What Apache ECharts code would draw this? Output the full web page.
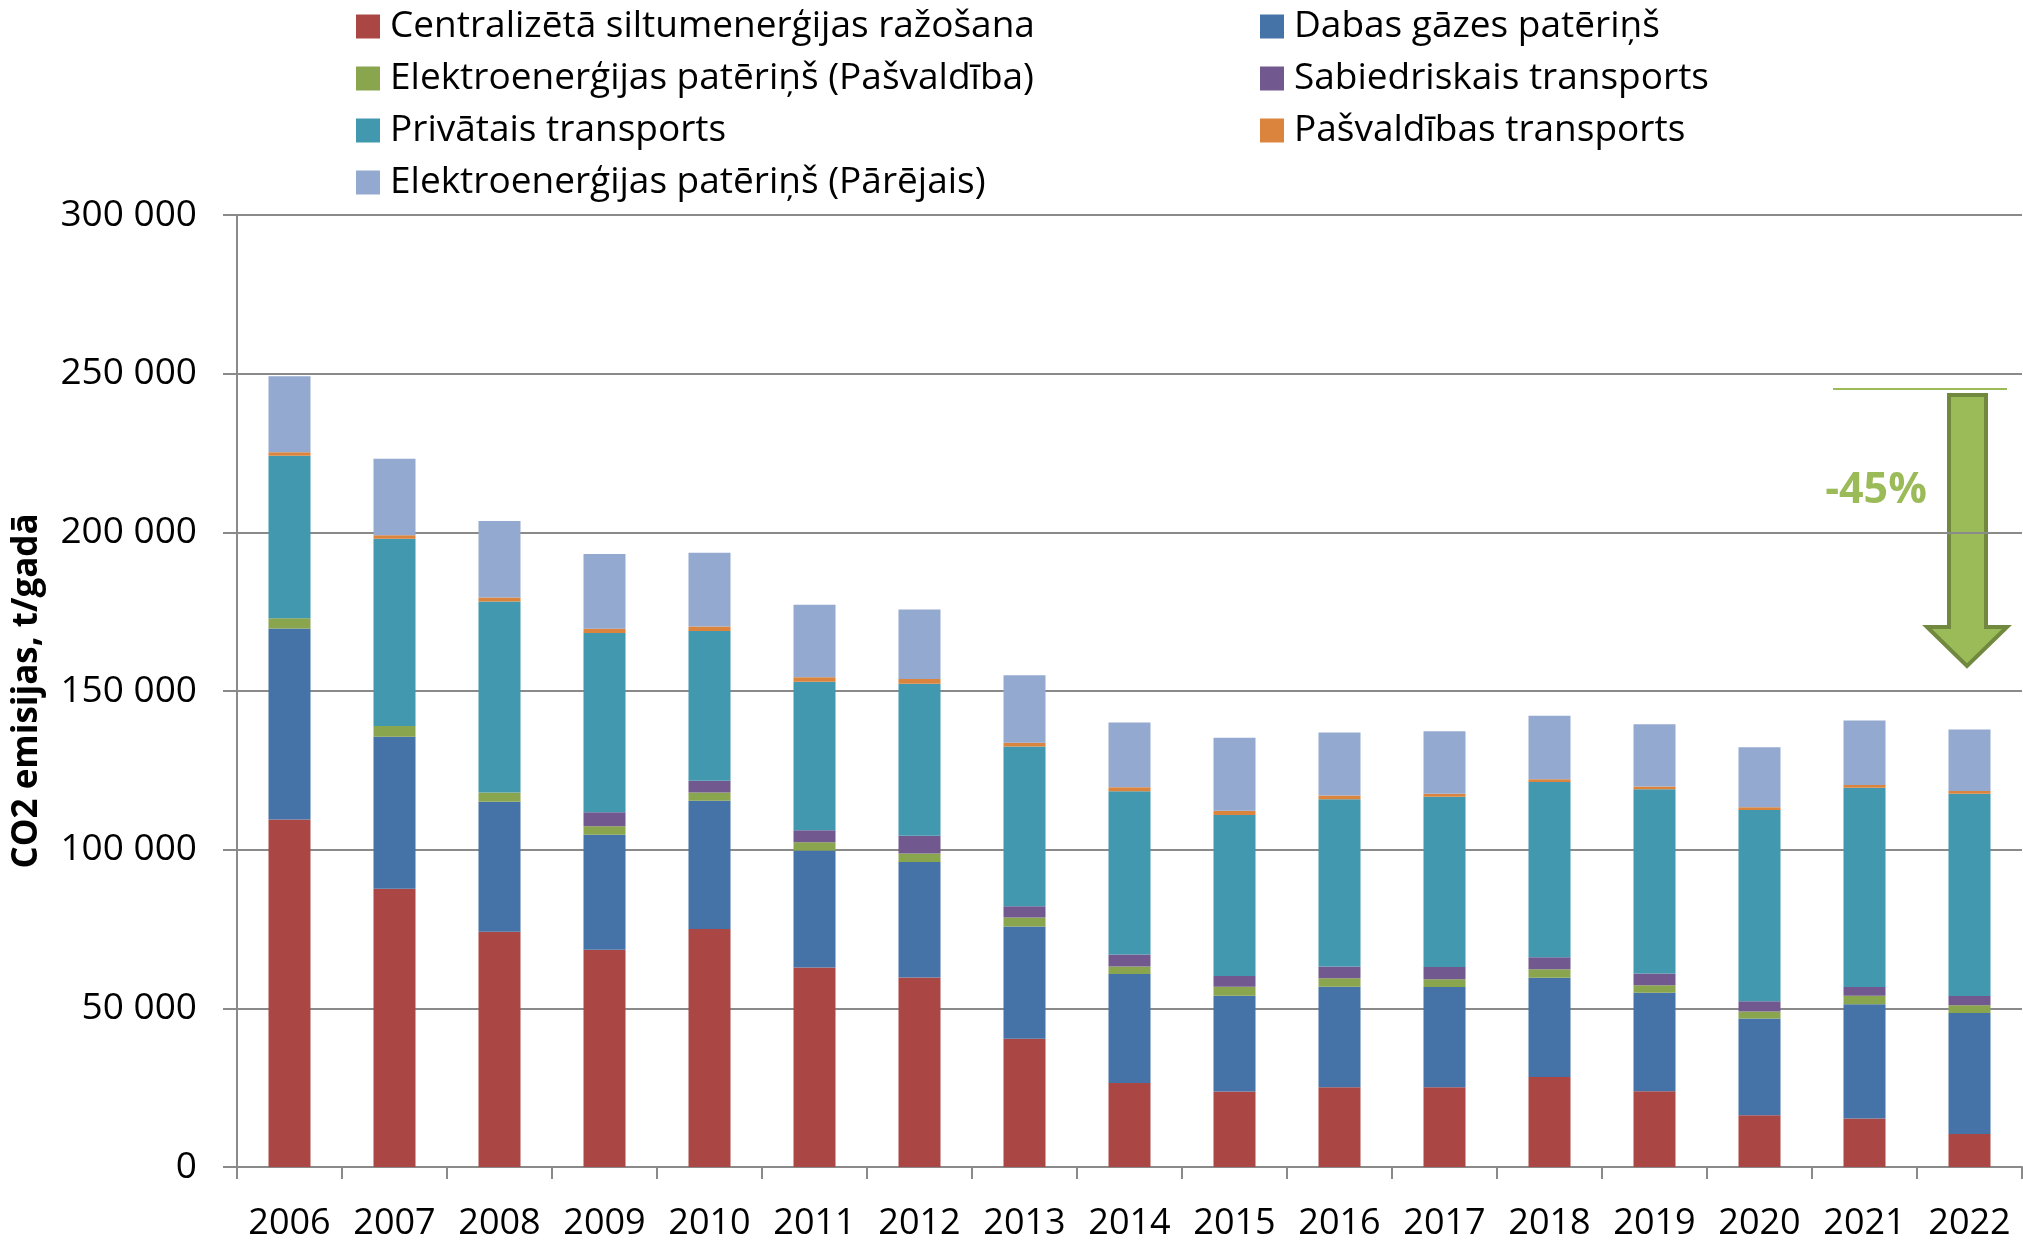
<!DOCTYPE html>
<html>
<head>
<meta charset="utf-8">
<title>CO2 emisijas</title>
<script src="https://cdn.jsdelivr.net/npm/echarts@6/dist/echarts.min.js"></script>
<style>
    html, body { margin: 0; padding: 0; background: #fff; }
    #chart { width: 2023px; height: 1243px; }
</style>
</head>
<body>
<div id="chart"></div>
<script>
const years = ["2006", "2007", "2008", "2009", "2010", "2011", "2012", "2013", "2014", "2015", "2016", "2017", "2018", "2019", "2020", "2021", "2022"];

const centralizeta = [109500, 87700, 74100, 68500, 75000, 62900, 59700, 40400, 26500, 23800, 25100, 25100, 28400, 23900, 16300, 15300, 10400];
const dabasGaze = [60200, 47900, 41000, 36200, 40400, 36800, 36400, 35400, 34300, 30200, 31700, 31600, 31200, 31000, 30500, 36000, 38100];
const elektroPasv = [3200, 3400, 2900, 2700, 2600, 2600, 2700, 2800, 2400, 2800, 2700, 2500, 2700, 2400, 2200, 2700, 2500];
const sabiedriskais = [0, 0, 0, 4400, 3700, 3800, 5600, 3600, 3800, 3400, 3700, 3800, 3800, 3700, 3200, 2700, 2900];
const privatais = [51200, 59000, 60200, 56500, 47200, 46800, 47900, 50300, 51400, 50700, 52700, 53700, 55200, 58000, 60300, 62800, 63700];
const pasvTransports = [1100, 1100, 1300, 1300, 1400, 1400, 1500, 1200, 1300, 1400, 1200, 900, 900, 900, 900, 900, 900];
const elektroParejais = [24000, 24100, 24100, 23600, 23300, 22900, 21900, 21300, 20400, 23000, 19800, 19700, 20000, 19600, 18900, 20300, 19400];

const yTicks = { min: 0, max: 300000, interval: 50000 };
const changeLabel = "-45%";

// stacking order, bottom to top
const SERIES = [
    { name: "Centralizētā siltumenerģijas ražošana", color: "#AA4643", data: centralizeta },
    { name: "Dabas gāzes patēriņš", color: "#4572A7", data: dabasGaze },
    { name: "Elektroenerģijas patēriņš (Pašvaldība)", color: "#89A54E", data: elektroPasv },
    { name: "Sabiedriskais transports", color: "#71588F", data: sabiedriskais },
    { name: "Privātais transports", color: "#4198AF", data: privatais },
    { name: "Pašvaldības transports", color: "#DB843D", data: pasvTransports },
    { name: "Elektroenerģijas patēriņš (Pārējais)", color: "#93A9CF", data: elektroParejais },
];

const FONT = "'Open Sans', 'Noto Sans', sans-serif";
const GRID_COLOR = "#8a8a8a";
const ARROW_FILL = "#9BBB59";
const ARROW_EDGE = "#71893F";

function fmtThousands(v) {
    return String(v).replace(/\B(?=(\d{3})+(?!\d))/g, " ");
}

function legend(names, left) {
    return {
        data: names,
        orient: "vertical",
        left: left,
        top: 8,
        padding: 0,
        itemGap: 15,
        itemWidth: 24,
        itemHeight: 24,
        icon: "rect",
        selectedMode: false,
        textStyle: { fontFamily: FONT, fontSize: 37, color: "#000", padding: [0, 0, 0, 5] },
    };
}

const chart = echarts.init(document.getElementById("chart"));

chart.setOption({
    animation: false,
    backgroundColor: "#fff",
    textStyle: { fontFamily: FONT },
    legend: [
        legend([SERIES[0].name, SERIES[2].name, SERIES[4].name, SERIES[6].name], 356),
        legend([SERIES[1].name, SERIES[3].name, SERIES[5].name], 1260),
    ],
    grid: { left: 237, right: 1, top: 215, bottom: 76 },
    xAxis: {
        type: "category",
        data: years,
        axisLine: { lineStyle: { color: GRID_COLOR, width: 2 } },
        axisTick: { show: true, length: 12, lineStyle: { color: GRID_COLOR, width: 2 } },
        axisLabel: { fontFamily: FONT, fontSize: 36, color: "#000", margin: 39, interval: 0 },
    },
    yAxis: {
        type: "value",
        min: yTicks.min,
        max: yTicks.max,
        interval: yTicks.interval,
        name: "CO2 emisijas, t/gadā",
        nameLocation: "middle",
        nameGap: 192,
        nameTextStyle: { fontFamily: FONT, fontSize: 35, fontWeight: "bold", color: "#000" },
        axisLine: { show: true, lineStyle: { color: GRID_COLOR, width: 2 } },
        axisTick: { show: true, length: 14, lineStyle: { color: GRID_COLOR, width: 2 } },
        axisLabel: { fontFamily: FONT, fontSize: 37, color: "#000", margin: 40, formatter: fmtThousands },
        splitLine: { lineStyle: { color: GRID_COLOR, width: 2 } },
    },
    series: SERIES.map((s) => ({
        name: s.name,
        type: "bar",
        stack: "total",
        barWidth: "40%",
        itemStyle: { color: s.color },
        data: s.data,
    })),
    // reduction annotation on the right
    graphic: [
        {
            type: "line",
            shape: { x1: 1833, y1: 389, x2: 2007, y2: 389 },
            style: { stroke: ARROW_FILL, lineWidth: 2 },
        },
        {
            type: "polygon",
            shape: {
                points: [[1949, 395], [1986, 395], [1986, 627], [2007, 627], [1967, 666], [1927, 627], [1949, 627]],
            },
            style: { fill: ARROW_FILL, stroke: ARROW_EDGE, lineWidth: 4 },
        },
        {
            type: "text",
            x: 1876,
            y: 491,
            style: {
                text: changeLabel,
                fill: ARROW_FILL,
                font: "bold 43px " + FONT,
                align: "center",
                verticalAlign: "middle",
            },
        },
    ],
});
</script>
</body>
</html>
